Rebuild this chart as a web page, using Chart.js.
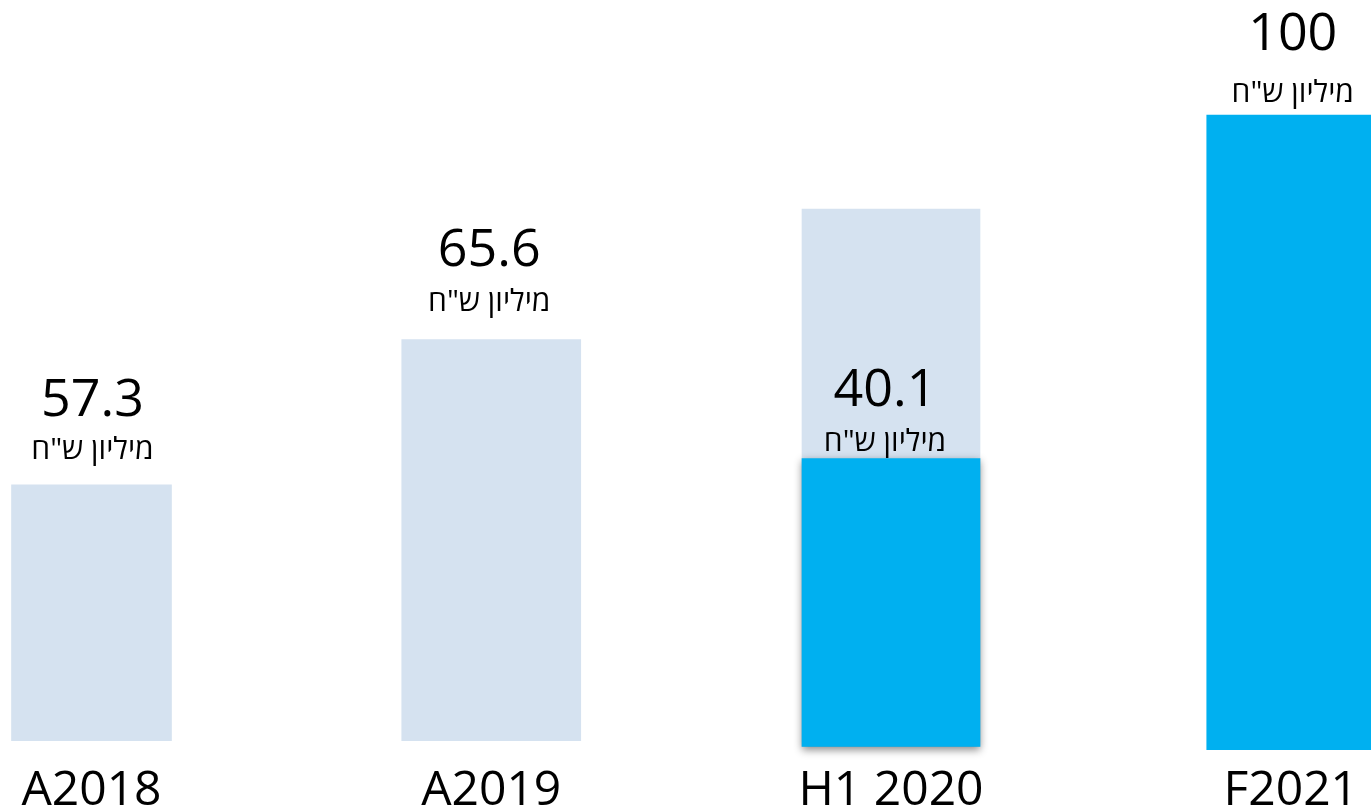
<!DOCTYPE html>
<html>
<head>
<meta charset="utf-8">
<script src="https://cdn.jsdelivr.net/npm/chart.js@4/dist/chart.umd.min.js"></script>
<style>
  html, body { margin: 0; padding: 0; background: #ffffff; overflow: hidden; }
  #wrap { position: absolute; left: 0; top: 0; width: 1371px; height: 812px; }
</style>
</head>
<body>
<div id="wrap"><canvas id="c"></canvas></div>
<script>
// ---- data ----
const categories = ['A2018', 'A2019', 'H1 2020', 'F2021'];
const valueLabels = ['57.3', '65.6', '40.1', '100'];
const unitLabel = 'מיליון ש"ח';
// bar extents in axis units (bars in the source are not drawn to scale)
const barBase  = [4.2, 4.2, 3.3, 2.8];
const lightTop = [44.2, 66.9, 87.3, null];
const blueTop  = [null, null, 48.3, 102.0];

// ---- styles ----
const LIGHT = '#D5E2F0';
const BLUE = '#00B0F0';
const barWidths = [160, 179, 178, 168];
const blueShadow = [false, false, true, false];
const unitGap = [26, 29, 8, 13];     // px between bar top and unit baseline
const numberGap = [43, 45, 45, 52];  // px between unit baseline and number baseline
const labelDx = [1, -2, -6, 2];
const FONT = "'Open Sans', 'DejaVu Sans', sans-serif";

const datasets = [];
categories.forEach((c, i) => {
  if (lightTop[i] !== null) {
    datasets.push({
      data: categories.map((_, j) => j === i ? [barBase[i], lightTop[i]] : null),
      backgroundColor: LIGHT, barThickness: barWidths[i], grouped: false,
      order: 1, clip: false, layer: 'light', cat: i
    });
  }
  if (blueTop[i] !== null) {
    datasets.push({
      data: categories.map((_, j) => j === i ? [barBase[i], blueTop[i]] : null),
      backgroundColor: BLUE, barThickness: barWidths[i], grouped: false,
      order: 0, clip: false, layer: 'blue', cat: i, shadow: blueShadow[i]
    });
  }
});

const shadowPlugin = {
  id: 'shadow',
  beforeDatasetDraw(chart, args) {
    const ds = chart.data.datasets[args.index];
    chart.ctx.save();
    if (ds.shadow) {
      chart.ctx.shadowColor = 'rgba(0,0,0,0.45)';
      chart.ctx.shadowBlur = 8;
      chart.ctx.shadowOffsetY = 3;
    }
  },
  afterDatasetDraw(chart) { chart.ctx.restore(); }
};

const labelPlugin = {
  id: 'valueLabels',
  afterDatasetsDraw(chart) {
    const ctx = chart.ctx;
    categories.forEach((c, i) => {
      const layer = blueTop[i] !== null ? 'blue' : 'light';
      const dsIndex = chart.data.datasets.findIndex(d => d.cat === i && d.layer === layer);
      const el = chart.getDatasetMeta(dsIndex).data[i];
      const x = el.x + labelDx[i];
      const yUnit = el.y - unitGap[i];
      ctx.save();
      ctx.fillStyle = '#000000';
      ctx.textAlign = 'center';
      ctx.textBaseline = 'alphabetic';
      ctx.font = '400 30px ' + FONT;
      ctx.fillText(unitLabel, x, yUnit);
      ctx.font = '400 52px ' + FONT;
      ctx.fillText(valueLabels[i], x, yUnit - numberGap[i]);
      ctx.restore();
    });
  }
};

new Chart(document.getElementById('c'), {
  type: 'bar',
  data: { labels: categories, datasets },
  options: {
    responsive: true,
    maintainAspectRatio: false,
    animation: false,
    events: [],
    layout: { padding: { left: 91.5, right: 80.25, top: 0, bottom: -3.6 } },
    plugins: { legend: { display: false }, tooltip: { enabled: false } },
    scales: {
      x: {
        offset: false,
        grid: { display: false, drawTicks: false },
        border: { display: false },
        ticks: { color: '#000000', padding: 0, font: { family: FONT, size: 48, weight: 400, lineHeight: 1 }, maxRotation: 0, autoSkip: false }
      },
      y: { display: false, min: 0, max: 120 }
    }
  },
  plugins: [shadowPlugin, labelPlugin]
});
</script>
</body>
</html>
